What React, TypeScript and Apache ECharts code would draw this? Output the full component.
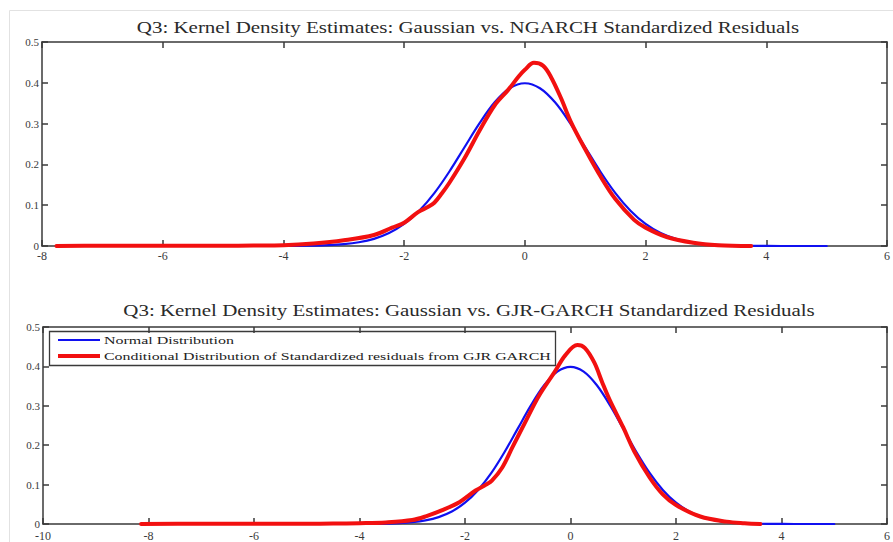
import React, { useEffect, useRef } from "react";
import * as echarts from "echarts";

// Standard normal density, sampled on a grid
const NORMAL_X = [-5, -4.5, -4, -3.75, -3.5, -3.25, -3, -2.75, -2.5, -2.25, -2, -1.75, -1.5, -1.25, -1, -0.75, -0.5, -0.25, 0, 0.25, 0.5, 0.75, 1, 1.25, 1.5, 1.75, 2, 2.25, 2.5, 2.75, 3, 3.25, 3.5, 3.75, 4, 4.5, 5];
const NORMAL_Y = [0, 0, 0.0001, 0.0004, 0.0009, 0.002, 0.0044, 0.0091, 0.0175, 0.0317, 0.054, 0.0863, 0.1295, 0.1826, 0.242, 0.3011, 0.3521, 0.3867, 0.3989, 0.3867, 0.3521, 0.3011, 0.242, 0.1826, 0.1295, 0.0863, 0.054, 0.0317, 0.0175, 0.0091, 0.0044, 0.002, 0.0009, 0.0004, 0.0001, 0, 0];

// Kernel density of NGARCH standardized residuals
const NGARCH_X = [-7.76, -7, -6, -5, -4.5, -4, -3.5, -3, -2.5, -2.2, -2, -1.77, -1.6, -1.5, -1.38, -1.25, -1, -0.75, -0.5, -0.28, -0.1, 0, 0.15, 0.3, 0.43, 0.6, 0.76, 1, 1.26, 1.5, 1.81, 2, 2.35, 2.79, 3.2, 3.75];
const NGARCH_Y = [0, 0.0005, 0.0008, 0.0006, 0.001, 0.0018, 0.006, 0.014, 0.027, 0.045, 0.057, 0.083, 0.096, 0.106, 0.128, 0.155, 0.215, 0.283, 0.345, 0.382, 0.416, 0.432, 0.449, 0.442, 0.415, 0.362, 0.305, 0.237, 0.169, 0.115, 0.064, 0.045, 0.022, 0.008, 0.002, 0];

// Kernel density of GJR-GARCH standardized residuals
const GJR_X = [-8.14, -7, -6, -5, -4.5, -4, -3.5, -3, -2.73, -2.43, -2.1, -1.8, -1.6, -1.49, -1.3, -1.1, -0.86, -0.6, -0.3, -0.1, 0.13, 0.27, 0.45, 0.6, 0.74, 1, 1.21, 1.5, 1.75, 2, 2.46, 2.96, 3.3, 3.6];
const GJR_Y = [0, 0.0005, 0.0006, 0.0008, 0.001, 0.002, 0.004, 0.01, 0.02, 0.035, 0.056, 0.085, 0.1, 0.11, 0.142, 0.195, 0.258, 0.325, 0.386, 0.428, 0.454, 0.447, 0.41, 0.36, 0.316, 0.245, 0.184, 0.118, 0.075, 0.048, 0.019, 0.006, 0.002, 0];

const TITLE_TOP = "Q3: Kernel Density Estimates: Gaussian vs. NGARCH Standardized Residuals";
const TITLE_BOTTOM = "Q3: Kernel Density Estimates: Gaussian vs. GJR-GARCH Standardized Residuals";
const NAME_NORMAL = "Normal Distribution";
const NAME_COND = "Conditional Distribution of Standardized residuals from GJR GARCH";

const zip = (xs: number[], ys: number[]) => xs.map((x, i) => [x, ys[i]]);

const FONT = "Liberation Serif";
const AXIS_COLOR = "#3a3a3a";
const BLUE = "#1010f0";
const RED = "#f21010";

// Horizontal stretch factor that makes a string span a given width
function stretchTo(text: string, fontSize: number, width: number): number {
  const ctx = document.createElement("canvas").getContext("2d");
  if (!ctx) return 1;
  ctx.font = `${fontSize}px "${FONT}"`;
  const w = ctx.measureText(text).width;
  return w > 0 ? width / w : 1;
}

export default function App() {
  const ref = useRef<HTMLDivElement>(null);

  useEffect(() => {
    if (!ref.current) return;
    const chart = echarts.init(ref.current, null, { renderer: "svg" });

    const axisLine = { show: true, onZero: false, lineStyle: { color: AXIS_COLOR, width: 1.5 } };
    const tick = { show: true, inside: true, length: 6, lineStyle: { color: AXIS_COLOR, width: 1.5 } };
    const label = { color: "#3a3a3a", fontFamily: FONT, fontSize: 12 };

    const xAxisPair = (grid: number, min: number, margin: number) => [
      {
        type: "value", gridIndex: grid, min, max: 6, interval: 2, position: "bottom",
        axisLine, axisTick: tick, splitLine: { show: false },
        axisLabel: { ...label, margin, showMinLabel: true, showMaxLabel: true },
      },
      {
        type: "value", gridIndex: grid, min, max: 6, interval: 2, position: "top",
        axisLine, axisTick: tick, splitLine: { show: false }, axisLabel: { show: false },
      },
    ];
    const yAxisPair = (grid: number) => [
      {
        type: "value", gridIndex: grid, min: 0, max: 0.5, interval: 0.1, position: "left",
        axisLine, axisTick: tick, splitLine: { show: false },
        axisLabel: { ...label, fontSize: 11, margin: 3, padding: [0, 0, 6, 0] },
      },
      {
        type: "value", gridIndex: grid, min: 0, max: 0.5, interval: 0.1, position: "right",
        axisLine, axisTick: tick, splitLine: { show: false }, axisLabel: { show: false },
      },
    ];

    const line = (name: string, data: number[][], axisIdx: number, color: string, width: number, z: number) => ({
      type: "line", name, data, xAxisIndex: axisIdx, yAxisIndex: axisIdx,
      smooth: 0.35, symbol: "none", showSymbol: false, z,
      lineStyle: { color, width, cap: "round", join: "round" },
      itemStyle: { color },
    });

    const titleText = (text: string, x: number, y: number, width: number) => ({
      type: "text", x, y, scaleX: stretchTo(text, 16, width), silent: true,
      style: { text, fontFamily: FONT, fontSize: 16, fill: "#2a2a2a", textAlign: "center", textVerticalAlign: "middle" },
    });

    // Legend box of the lower panel
    const legendText = (text: string, y: number, width: number) => ({
      type: "text", x: 104, y, scaleX: stretchTo(text, 11, width),
      style: { text, fontFamily: FONT, fontSize: 11, fill: "#222", textAlign: "left", textVerticalAlign: "middle" },
    });
    const legend = {
      type: "group", z: 20, silent: true,
      children: [
        { type: "rect", shape: { x: 49.5, y: 331.5, width: 506, height: 34 }, style: { fill: "#fff", stroke: AXIS_COLOR, lineWidth: 1.3 } },
        { type: "line", shape: { x1: 58, y1: 340, x2: 100, y2: 340 }, style: { stroke: BLUE, lineWidth: 2.2 } },
        { type: "line", shape: { x1: 58, y1: 356, x2: 100, y2: 356 }, style: { stroke: RED, lineWidth: 4 } },
        legendText(NAME_NORMAL, 340, 130),
        legendText(NAME_COND, 356, 447),
      ],
    };

    chart.setOption({
      animation: false,
      backgroundColor: "#fff",
      grid: [
        { left: 42, top: 42, width: 852, height: 204 },
        { left: 43, top: 327, width: 851, height: 202 },
      ],
      xAxis: [...xAxisPair(0, -8, 4), ...xAxisPair(1, -10, 6)],
      yAxis: [...yAxisPair(0), ...yAxisPair(1)],
      series: [
        line(NAME_NORMAL, zip(NORMAL_X, NORMAL_Y), 0, BLUE, 2.2, 2),
        line(NAME_COND, zip(NGARCH_X, NGARCH_Y), 0, RED, 4, 3),
        line(NAME_NORMAL, zip(NORMAL_X, NORMAL_Y), 2, BLUE, 2.2, 2),
        line(NAME_COND, zip(GJR_X, GJR_Y), 2, RED, 4, 3),
      ],
      graphic: [
        { type: "line", shape: { x1: 9.5, y1: 10.5, x2: 893, y2: 10.5 }, style: { stroke: "#e2e2e2", lineWidth: 1 }, silent: true },
        { type: "line", shape: { x1: 9.5, y1: 10.5, x2: 9.5, y2: 542 }, style: { stroke: "#e2e2e2", lineWidth: 1 }, silent: true },
        titleText(TITLE_TOP, 468, 27, 663),
        titleText(TITLE_BOTTOM, 469, 310, 692),
        legend,
      ],
    });

    return () => chart.dispose();
  }, []);

  return (
    <div
      ref={ref}
      style={{ position: "absolute", left: 0, top: 0, width: 893, height: 542 }}
    />
  );
}
